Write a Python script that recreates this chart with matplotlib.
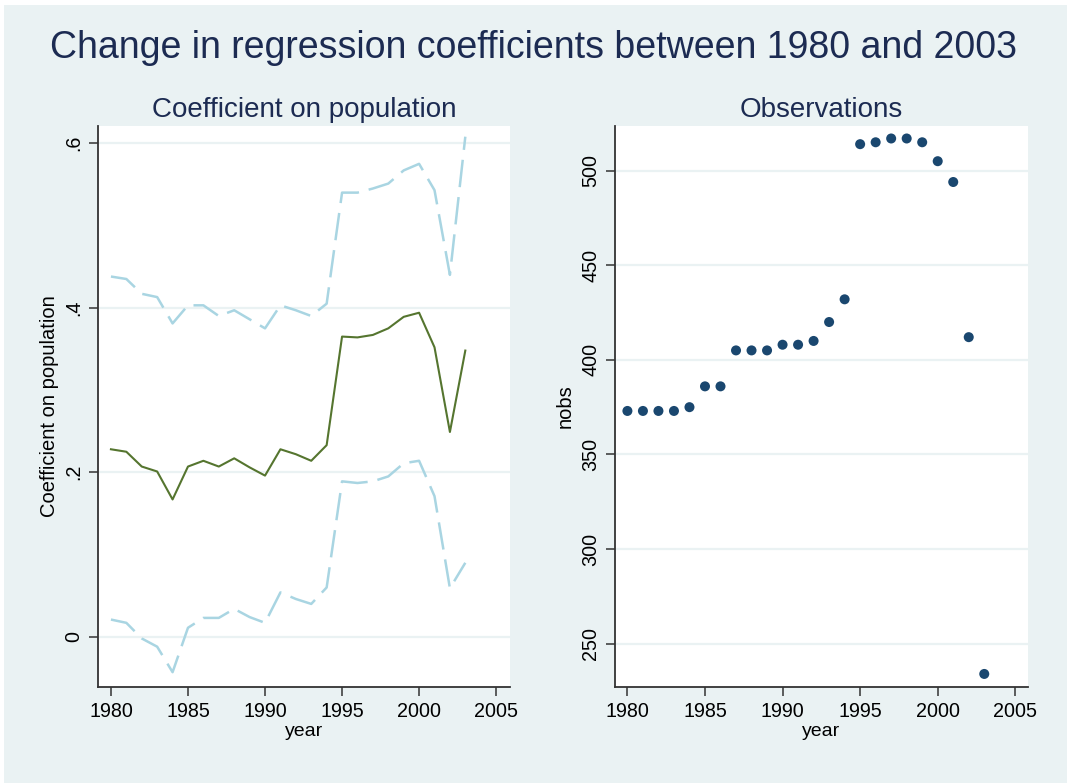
import numpy as np
import matplotlib.pyplot as plt
from matplotlib.patches import Rectangle

plt.rcParams['font.family'] = ['Liberation Sans', 'DejaVu Sans']

years = list(range(1980, 2004))

coef = [0.228, 0.225, 0.207, 0.201, 0.167, 0.207, 0.214, 0.207, 0.217, 0.206,
        0.196, 0.228, 0.222, 0.214, 0.233, 0.365, 0.364, 0.367, 0.375, 0.389,
        0.394, 0.352, 0.249, 0.348]
coef_hi = [0.438, 0.435, 0.417, 0.413, 0.381, 0.403, 0.403, 0.390, 0.397, 0.386,
           0.375, 0.403, 0.397, 0.390, 0.405, 0.540, 0.540, 0.545, 0.551, 0.567,
           0.575, 0.543, 0.440, 0.608]
coef_lo = [0.021, 0.017, -0.002, -0.012, -0.043, 0.011, 0.023, 0.023, 0.034, 0.024,
           0.017, 0.054, 0.046, 0.040, 0.060, 0.189, 0.187, 0.189, 0.195, 0.211,
           0.214, 0.171, 0.059, 0.090]
nobs = [373, 373, 373, 373, 375, 386, 386, 405, 405, 405,
        408, 408, 410, 420, 432, 514, 515, 517, 517, 515,
        505, 494, 412, 234]

xticks = [1980, 1985, 1990, 1995, 2000, 2005]
coef_ticks = [0, 0.2, 0.4, 0.6]
coef_ticklabels = ['0', '.2', '.4', '.6']
nobs_ticks = [250, 300, 350, 400, 450, 500]

bg = '#eaf2f3'
navy = '#1a476f'
title_col = '#1c2b52'

fig = plt.figure(figsize=(10.67, 7.83), dpi=100, facecolor='white')
fig.patches.append(Rectangle((4/1067, 0), 1, (783-5)/783, transform=fig.transFigure,
                             facecolor=bg, edgecolor='none', zorder=-10))

fig.text(0.5, (783-58)/783, 'Change in regression coefficients between 1980 and 2003',
         ha='center', va='baseline', fontsize=27, color=title_col)

ax1 = fig.add_axes([98/1067, (783-687)/783, 412/1067, 561/783])
ax2 = fig.add_axes([615/1067, (783-687)/783, 412.7/1067, 561/783])


def style(ax):
    ax.set_facecolor('white')
    for s in ['top', 'right']:
        ax.spines[s].set_visible(False)
    for s in ['left', 'bottom']:
        ax.spines[s].set_color('#333333')
        ax.spines[s].set_linewidth(1.3)
    ax.grid(axis='y', color=bg, linewidth=1.6)
    ax.set_axisbelow(True)
    ax.tick_params(axis='both', length=6.5, width=1.1, color='#333333', labelsize=14.2, pad=4)
    ax.tick_params(axis='y', labelrotation=90)
    for lab in ax.get_yticklabels():
        lab.set_va('center')
    ax.set_xticks(xticks)
    ax.set_xlabel('year', fontsize=14, labelpad=2)


# left panel
ax1.plot(years, coef_hi, color='#a9d5e2', linewidth=1.8, dashes=(11, 4))
ax1.plot(years, coef_lo, color='#a9d5e2', linewidth=1.8, dashes=(11, 4))
ax1.plot(years, coef, color='#55752f', linewidth=1.5)
ax1.set_xlim(1979.16, 2005.9)
ax1.set_ylim(-0.061, 0.621)
ax1.set_yticks(coef_ticks)
ax1.set_yticklabels(coef_ticklabels)
style(ax1)
ax1.set_ylabel('Coefficient on population', fontsize=14.5, labelpad=4)
ax1.set_title('Coefficient on population', fontsize=20, color=title_col, pad=6.5)

# right panel
ax2.scatter(years, nobs, s=52, color=navy, edgecolors='none', zorder=3)
ax2.set_xlim(1979.2, 2005.8)
ax2.set_ylim(227.1, 523.6)
ax2.set_yticks(nobs_ticks)
style(ax2)
ax2.set_ylabel('nobs', fontsize=14.5, labelpad=5)
ax2.set_title('Observations', fontsize=20, color=title_col, pad=6.5)

fig.savefig('out.png', dpi=100, facecolor=fig.get_facecolor())
